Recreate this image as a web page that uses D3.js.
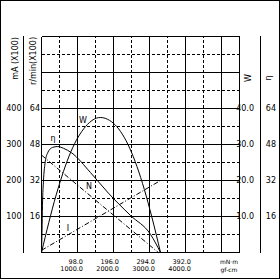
<!DOCTYPE html>
<html>
<head>
<meta charset="utf-8">
<script src="https://cdn.jsdelivr.net/npm/d3@7"></script>
<style>
body { margin: 0; background: #fff; }
svg { display: block; }
text { font-family: "DejaVu Sans", sans-serif; fill: #000; }
</style>
</head>
<body>
<svg id="svg1" width="280" height="280"></svg>
<script>
// 資料 (從圖上讀的)
var torqueTicks = [98.0, 196.0, 294.0, 392.0];          // mN·m
var gfcmTicks = [1000.0, 2000.0, 3000.0, 4000.0];       // gf-cm
var mATicks = [100, 200, 300, 400];
var rpmTicks = [16, 32, 48, 64];
var wTicks = [10.0, 20.0, 30.0, 40.0];
var effTicks = [16, 32, 48, 64];

// N: r/min (x100)
var speedT = [0, 318];
var speedN = [43.3, 0];
// I: mA
var currentT = [0, 324];
var currentI = [6, 200];
// W: output
var powerT = [0, 40, 80, 120, 160, 200, 240, 280, 300, 324];
var powerW = [0, 16, 28, 35, 37.5, 35.5, 29, 17.5, 10, 0];
// η: %
var effT = [0, 1.4, 2.7, 5.4, 9.5, 16, 30, 44, 60, 82, 133, 182, 242, 297, 324];
var effE = [0, 9, 21, 32, 39.5, 44, 46.7, 47.1, 46.3, 44.3, 35.6, 26.4, 16.5, 8, 0];

var svg = d3.select('#svg1');

var x = d3.scaleLinear().domain([0, 539]).range([41.5, 239.5]);
var yI = d3.scaleLinear().domain([0, 600]).range([252.5, 36.5]);
var yN = d3.scaleLinear().domain([0, 96]).range([252.5, 36.5]);
var yW = d3.scaleLinear().domain([0, 60]).range([252.5, 36.5]);
var yE = d3.scaleLinear().domain([0, 96]).range([252.5, 36.5]);

// 外框
svg.append('rect')
    .attr('x', 0.5).attr('y', 0.5)
    .attr('width', 279).attr('height', 278)
    .attr('fill', 'none').attr('stroke', '#000');

// 格線
var grid = svg.append('g').attr('shape-rendering', 'crispEdges');
var xg = d3.range(0, 540, 49);
var yg = d3.range(0, 601, 50);

grid.selectAll('.vx').data(xg).enter().append('line')
    .attr('x1', function(d) { return x(d); })
    .attr('x2', function(d) { return x(d); })
    .attr('y1', yI(0)).attr('y2', yI(600))
    .attr('stroke', '#000')
    .attr('stroke-dasharray', function(d, i) { return i % 2 ? '3,2' : null; });

grid.selectAll('.hy').data(yg).enter().append('line')
    .attr('y1', function(d) { return yI(d); })
    .attr('y2', function(d) { return yI(d); })
    .attr('x1', x(0)).attr('x2', x(539))
    .attr('stroke', '#000')
    .attr('stroke-dasharray', function(d, i) { return i % 2 ? '3,2' : null; });

grid.append('line').attr('x1', x(539)).attr('x2', x(539))
    .attr('y1', yI(0)).attr('y2', yI(600)).attr('stroke', '#000');

// 兩邊的軸線
grid.append('line').attr('x1', 23.5).attr('x2', 23.5)
    .attr('y1', 36).attr('y2', 253).attr('stroke', '#000');
grid.append('line').attr('x1', 260.5).attr('x2', 260.5)
    .attr('y1', 36).attr('y2', 253).attr('stroke', '#000');

// 刻度文字
function yLabels(ticks, scale, xpos, fmt) {
    svg.append('g').selectAll('text').data(ticks).enter().append('text')
        .attr('x', xpos)
        .attr('y', function(d) { return scale(d); })
        .attr('dy', '0.35em')
        .attr('text-anchor', 'end')
        .attr('font-size', 8)
        .text(function(d) { return fmt(d); });
}
yLabels(mATicks, yI, 21.5, d3.format('d'));
yLabels(rpmTicks, yN, 40, d3.format('d'));
yLabels(wTicks, yW, 254, d3.format('.1f'));
yLabels(effTicks, yE, 276, d3.format('d'));

svg.append('g').selectAll('text').data(torqueTicks).enter().append('text')
    .attr('x', function(d) { return x(d) + 5.5; })
    .attr('y', 263.5)
    .attr('text-anchor', 'end')
    .attr('font-size', 6.5)
    .text(function(d) { return d3.format('.1f')(d); });

svg.append('g').selectAll('text').data(gfcmTicks).enter().append('text')
    .attr('x', function(d, i) { return x(torqueTicks[i]) + 5.5; })
    .attr('y', 271)
    .attr('text-anchor', 'end')
    .attr('font-size', 6.5)
    .text(function(d) { return d3.format('.1f')(d); });

// 軸標題
function vTitle(txt, xpos, ypos, anchor) {
    svg.append('text')
        .attr('transform', 'translate(' + xpos + ',' + ypos + ') rotate(-90)')
        .attr('text-anchor', anchor)
        .attr('dy', '0.35em')
        .attr('font-size', 8)
        .text(txt);
}
vTitle('mA (X100)', 15, 37, 'end');
vTitle('r/min(X100)', 33, 37, 'end');
vTitle('W', 248, 78, 'middle');
vTitle('η', 268, 78, 'middle');

svg.append('text').attr('x', 229).attr('y', 264)
    .attr('text-anchor', 'middle').attr('font-size', 6).text('mN·m');
svg.append('text').attr('x', 229).attr('y', 271.5)
    .attr('text-anchor', 'middle').attr('font-size', 6).text('gf-cm');

// 曲線
function curve(ts, vs, scale, dash, c) {
    var pts = ts.map(function(t, i) { return [x(t), scale(vs[i])]; });
    svg.append('path')
        .attr('d', d3.line().curve(c || d3.curveLinear)(pts))
        .attr('fill', 'none')
        .attr('stroke', '#000')
        .attr('stroke-width', 1)
        .attr('stroke-dasharray', dash);
}
curve(speedT, speedN, yN, '5,2,1,2');
curve(currentT, currentI, yI, '5,2,1,2');
curve(powerT, powerW, yW, null, d3.curveMonotoneX);
curve(effT, effE, yE, null, d3.curveMonotoneX);

// 曲線名字
var names = [['W', 83, 120], ['η', 53, 138], ['N', 89, 186], ['I', 68, 228]];
svg.append('g').attr('opacity', 0.999)
    .selectAll('text').data(names).enter().append('text')
    .attr('x', function(d) { return d[1]; })
    .attr('y', function(d) { return d[2]; })
    .attr('dy', '0.35em')
    .attr('text-anchor', 'middle')
    .attr('font-size', 8)
    .attr('fill', '#000')
    .text(function(d) { return d[0]; });
</script>
</body>
</html>
